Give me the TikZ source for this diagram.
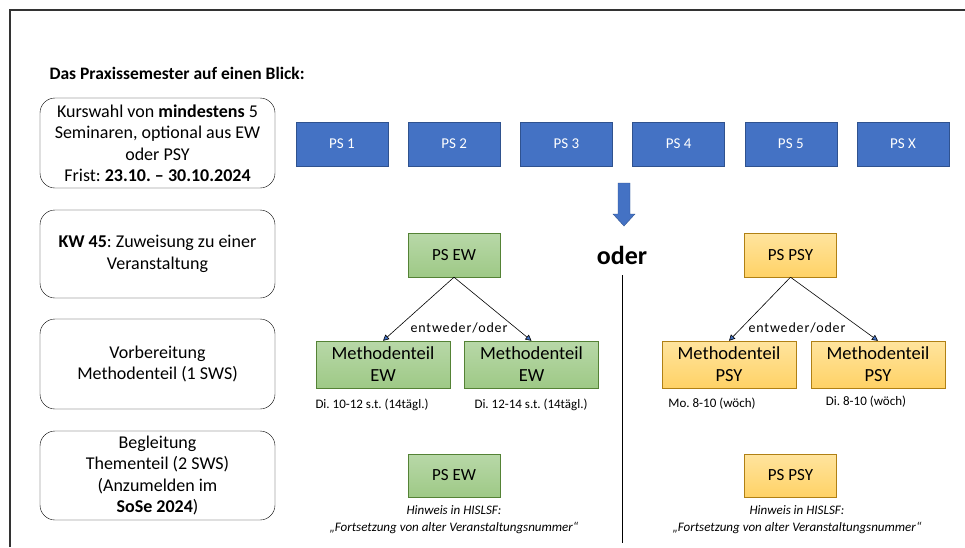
\documentclass[tikz,border=0pt]{standalone}
\usepackage{fontspec}
\setmainfont{Carlito}
\usepackage{tikz}
\usepackage{xcolor}
\usetikzlibrary{arrows.meta}
\frenchspacing

\definecolor{psblue}{RGB}{68,114,196}
\definecolor{psbluedark}{RGB}{47,82,143}
\definecolor{ewtop}{RGB}{184,216,168}
\definecolor{ewbot}{RGB}{158,201,134}
\definecolor{ewline}{RGB}{84,130,53}
\definecolor{psytop}{RGB}{255,228,158}
\definecolor{psybot}{RGB}{255,210,102}
\definecolor{psyline}{RGB}{176,128,20}

\begin{document}
\begin{tikzpicture}[x=1pt, y=-1pt,
    stage/.style={draw, rounded corners=15pt, minimum width=235pt, align=center,
        font=\fontsize{18}{21.5}\selectfont, inner sep=0pt},
    ps/.style={draw=psbluedark, fill=psblue, text=white, minimum width=92pt,
        minimum height=44pt, font=\fontsize{15}{18}\selectfont},
    ew/.style={draw=ewline, top color=ewtop, bottom color=ewbot, align=center,
        inner sep=0pt, font=\fontsize{18.5}{22}\selectfont},
    psy/.style={draw=psyline, top color=psytop, bottom color=psybot, align=center,
        inner sep=0pt, font=\fontsize{18.5}{22}\selectfont},
    date/.style={font=\fontsize{13}{16}\selectfont},
    either/.style={font=\fontsize{14}{16}\selectfont\addfontfeatures{LetterSpace=6}},
    note/.style={align=center, font=\fontsize{13}{17}\selectfont\itshape},
    tip/.style={-{Triangle[length=6pt,width=6pt,fill=psblue]}, semithick}]
                \useasboundingbox (0,0) rectangle (965,547);
                \draw[line width=1.5pt, black!80] (10,547) -- (10,10) -- (965,10);

                \node[anchor=base west, font=\fontsize{17.5}{20}\selectfont\bfseries] (title) at (46,79) {Das Praxissemester auf einen Blick:};

                % left column
                \node[stage, minimum height=90pt] (s1) at (157.5,143) {Kurswahl von \textbf{mindestens} 5\\ Seminaren, optional aus EW\\ oder PSY\\ Frist: \textbf{23.10. – 30.10.2024}};
                \node[stage, minimum height=88pt] (s2) at (157.5,254) {\textbf{KW 45}: Zuweisung zu einer\\ Veranstaltung};
                \node[stage, minimum height=90pt] (s3) at (157.5,364) {Vorbereitung\\ Methodenteil (1 SWS)};
                \node[stage, minimum height=89pt] (s4) at (157.5,475.5) {Begleitung\\ Thementeil (2 SWS)\\ (Anzumelden im\\ \textbf{SoSe 2024})};

                % seminars
                \foreach \i/\t in {1/PS 1, 2/PS 2, 3/PS 3, 4/PS 4, 5/PS 5, 6/PS X}
                    \node[ps] (ps\i) at ({342+112.2*(\i-1)},144) {\t};

                \draw[psbluedark, fill=psblue] (618,183) -- (630,183) -- (630,214) -- (635,214)
                    -- (624,226) -- (613,214) -- (618,214) -- cycle;

                \node[font=\fontsize{26}{30}\selectfont\bfseries] (oder) at (622,255) {oder};
                \coordinate (top) at (622,275);
                \coordinate (bot) at (622,543);
                \draw (top) -- (bot);

                % EW
                \node[ew, minimum width=92pt, minimum height=44pt, font=\fontsize{17}{20}\selectfont] (ew) at (454,255) {PS EW};
                \node[ew, minimum width=134pt, minimum height=47pt] (mew1) at (383,364.5) {Methodenteil\\ EW};
                \node[ew, minimum width=134pt, minimum height=47pt] (mew2) at (531.5,364.5) {Methodenteil\\ EW};
                \draw[tip] (ew.south) -- (mew1.north);
                \draw[tip] (ew.south) -- (mew2.north);
                \node[either] at (459,328) {entweder/oder};
                \node[date] (d1) at (372,405) {Di. 10-12 s.t. (14tägl.)};
                \node[date] (d2) at (531,405) {Di. 12-14 s.t. (14tägl.)};
                \node[ew, minimum width=92pt, minimum height=43pt, font=\fontsize{17}{20}\selectfont] (ew2) at (454,475.5) {PS EW};
                \node[note] (n1) at (454,520) {Hinweis in HISLSF:\\ „Fortsetzung von alter Veranstaltungsnummer“};

                % PSY
                \node[psy, minimum width=92pt, minimum height=44pt, font=\fontsize{17}{20}\selectfont] (psy) at (790.5,255) {PS PSY};
                \node[psy, minimum width=134pt, minimum height=47pt] (mpsy1) at (729,364.5) {Methodenteil\\ PSY};
                \node[psy, minimum width=134pt, minimum height=47pt] (mpsy2) at (878,364.5) {Methodenteil\\ PSY};
                \draw[tip] (psy.south) -- (mpsy1.north);
                \draw[tip] (psy.south) -- (mpsy2.north);
                \node[either] at (797,328) {entweder/oder};
                \node[date] (d3) at (712,404) {Mo. 8-10 (wöch)};
                \node[date] (d4) at (866,402) {Di. 8-10 (wöch)};
                \node[psy, minimum width=92pt, minimum height=43pt, font=\fontsize{17}{20}\selectfont] (psy2) at (790.5,475.5) {PS PSY};
                \node[note] (n2) at (797,520) {Hinweis in HISLSF:\\ „Fortsetzung von alter Veranstaltungsnummer“};
            \end{tikzpicture}
\end{document}
